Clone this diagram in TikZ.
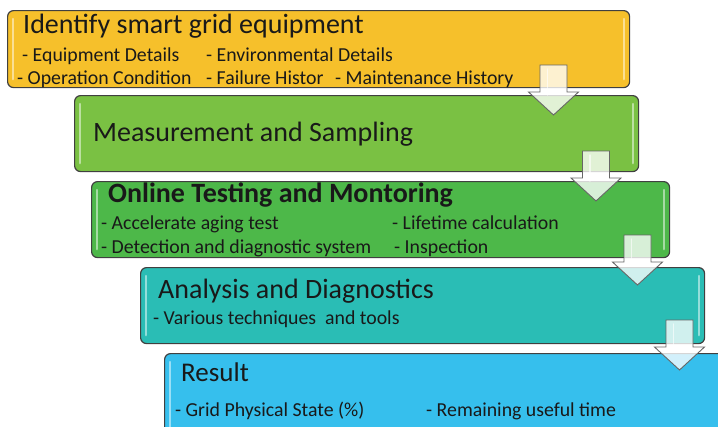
\documentclass[tikz,border=0pt]{standalone}
\usepackage{fontspec}
\setmainfont{Carlito}
\usetikzlibrary{calc}

\definecolor{stepyellow}{HTML}{F6C02B}
\definecolor{steplime}{HTML}{7AC143}
\definecolor{stepgreen}{HTML}{4DB849}
\definecolor{stepteal}{HTML}{2ABDB5}
\definecolor{stepblue}{HTML}{36BFED}
\definecolor{edgegray}{HTML}{404040}

\begin{document}
\begin{tikzpicture}[x=1pt,y=-1pt,
    stagebox/.style = {draw=edgegray, line width=1.2pt, rounded corners=6pt,
                       anchor=north west, inner sep=0pt},
    gloss/.style = {draw=white, opacity=.5, line width=2.2pt, line cap=round},
    ttl/.style = {anchor=base west, inner sep=0pt, text=black!90,
                  font=\fontsize{28}{30}\selectfont},
    itm/.style = {anchor=base west, inner sep=0pt, text=black!90,
                  font=\fontsize{19.8}{21}\selectfont},
    downarr/.pic = {
        \path[draw=edgegray!80, line width=.9pt, fill=white, fill opacity=.78]
            (-13.5,0) -- (13.5,0) -- (13.5,27) -- (25,27) -- (0,50)
            -- (-25,27) -- (-13.5,27) -- cycle;
        \draw[white, opacity=.6, line width=1.5pt, line cap=round]
            (-6,4) -- (-6,30);
    }]
    \useasboundingbox (0,0) rectangle (718,426);
    \clip (0,0) rectangle (718,426);

    % stages
    \node[stagebox, fill=stepyellow, minimum width=622pt, minimum height=77pt]
        (ident) at (7,10) {};
    \node[stagebox, fill=steplime, minimum width=564pt, minimum height=76pt]
        (meas) at (74,95) {};
    \node[stagebox, fill=stepgreen, minimum width=578pt, minimum height=76pt]
        (online) at (91,181) {};
    \node[stagebox, fill=stepteal, minimum width=564pt, minimum height=76pt]
        (anal) at (140,267) {};
    \node[stagebox, fill=stepblue, minimum width=600pt, minimum height=90pt]
        (res) at (164,353) {};

    \foreach \b in {ident,meas,online,anal,res} {
        \draw[gloss] ([shift={(6,9)}]\b.north west) -- ([shift={(6,-9)}]\b.south west);
        \draw[gloss] ([shift={(-6,9)}]\b.north east) -- ([shift={(-6,-9)}]\b.south east);
    }

    % texts
    \node[ttl] (identT) at (23,33) {Identify smart grid equipment};
    \node[itm] (identA) at (22,61) {- Equipment Details};
    \node[itm] (identB) at (206,61) {- Environmental Details};
    \node[itm] (identC) at (17,84) {- Operation Condition};
    \node[itm] (identD) at (206,84) {- Failure Histor};
    \node[itm] (identE) at (335,84) {- Maintenance History};

    \node[ttl] (measT) at (93,141) {Measurement and Sampling};

    \node[ttl, font=\fontsize{28}{30}\selectfont\bfseries] (onlineT) at (108,202)
        {Online Testing and Montoring};
    \node[itm] (onlineA) at (101,229) {- Accelerate aging test};
    \node[itm] (onlineB) at (392,229) {- Lifetime calculation};
    \node[itm] (onlineC) at (101,253) {- Detection and diagnostic system};
    \node[itm] (onlineD) at (394,253) {- Inspection};

    \node[ttl] (analT) at (158,298) {Analysis and Diagnostics};
    \node[itm] (analA) at (153,324) {- Various techniques\ \ and tools};

    \node[ttl, font=\fontsize{27}{29}\selectfont] (resT) at (181,381) {Result};
    \node[itm] (resA) at (175,416) {- Grid Physical State (\%)};
    \node[itm] (resB) at (426,416) {- Remaining useful time};

    % block arrows between stages
    \coordinate (a1) at (553.5,65);
    \coordinate (a2) at (596,151);
    \coordinate (a3) at (637.5,235);
    \coordinate (a4) at (679.5,320);
    \foreach \a in {a1,a2,a3,a4}
        \pic at (\a) {downarr};
\end{tikzpicture}
\end{document}
